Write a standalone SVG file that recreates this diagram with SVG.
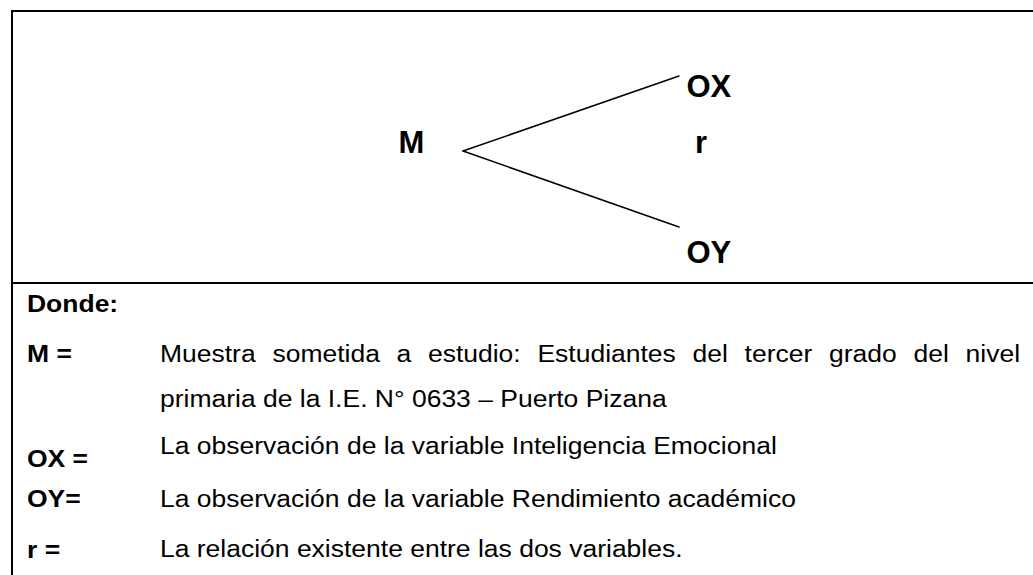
<svg xmlns="http://www.w3.org/2000/svg" width="1033" height="575" viewBox="0 0 1033 575">
  <style>
    .frame { stroke: #000; stroke-width: 2; fill: none; }
    .conn { stroke: #000; stroke-width: 1.5; fill: none; stroke-linecap: round; }
    .node { font-family: "Liberation Sans", Arial, sans-serif; font-weight: bold; font-size: 31px; fill: #000; }
    .lbl { font-family: "Liberation Sans", Arial, sans-serif; font-weight: bold; font-size: 24.2px; fill: #000; }
    .txt { font-family: "Liberation Sans", Arial, sans-serif; font-size: 24.2px; fill: #000; }
  </style>
  <rect width="1033" height="575" fill="#fff"/>
  <g id="frame">
    <line class="frame" x1="11" y1="11" x2="1033" y2="11"/>
    <line class="frame" x1="12" y1="10" x2="12" y2="575"/>
    <line class="frame" x1="11" y1="283" x2="1033" y2="283"/>
  </g>
  <g id="connectors">
    <line class="conn" x1="463" y1="151" x2="679" y2="76"/>
    <line class="conn" x1="463" y1="151" x2="679" y2="227"/>
  </g>
  <g id="node-M"><text class="node" x="398.5" y="153">M</text></g>
  <g id="node-OX"><text class="node" x="686.5" y="97">OX</text></g>
  <g id="node-r"><text class="node" x="695" y="153">r</text></g>
  <g id="node-OY"><text class="node" x="686.5" y="263">OY</text></g>
  <g id="legend" transform="scale(1.095 1)">
    <text class="lbl" x="24.66" y="312">Donde:</text>
    <text class="lbl" x="24.66" y="362">M =</text>
    <text class="txt" y="362"><tspan x="146.1">Muestra</tspan> <tspan x="248.8">sometida</tspan> <tspan x="362.1">a</tspan> <tspan x="390.8">estudio:</tspan> <tspan x="490.8">Estudiantes</tspan> <tspan x="632.4">del</tspan> <tspan x="680.0">tercer</tspan> <tspan x="757.1">grado</tspan> <tspan x="834.2">del</tspan> <tspan x="881.8">nivel</tspan></text>
    <text class="txt" x="146.1" y="407.5">primaria de la I.E. N° 0633 – Puerto Pizana</text>
    <text class="lbl" x="24.66" y="467">OX =</text>
    <text class="txt" x="146.1" y="454">La observación de la variable Inteligencia Emocional</text>
    <text class="lbl" x="24.66" y="507.5">OY=</text>
    <text class="txt" x="146.1" y="507">La observación de la variable Rendimiento académico</text>
    <text class="lbl" x="24.66" y="558">r =</text>
    <text class="txt" x="146.1" y="557">La relación existente entre las dos variables.</text>
  </g>
</svg>
